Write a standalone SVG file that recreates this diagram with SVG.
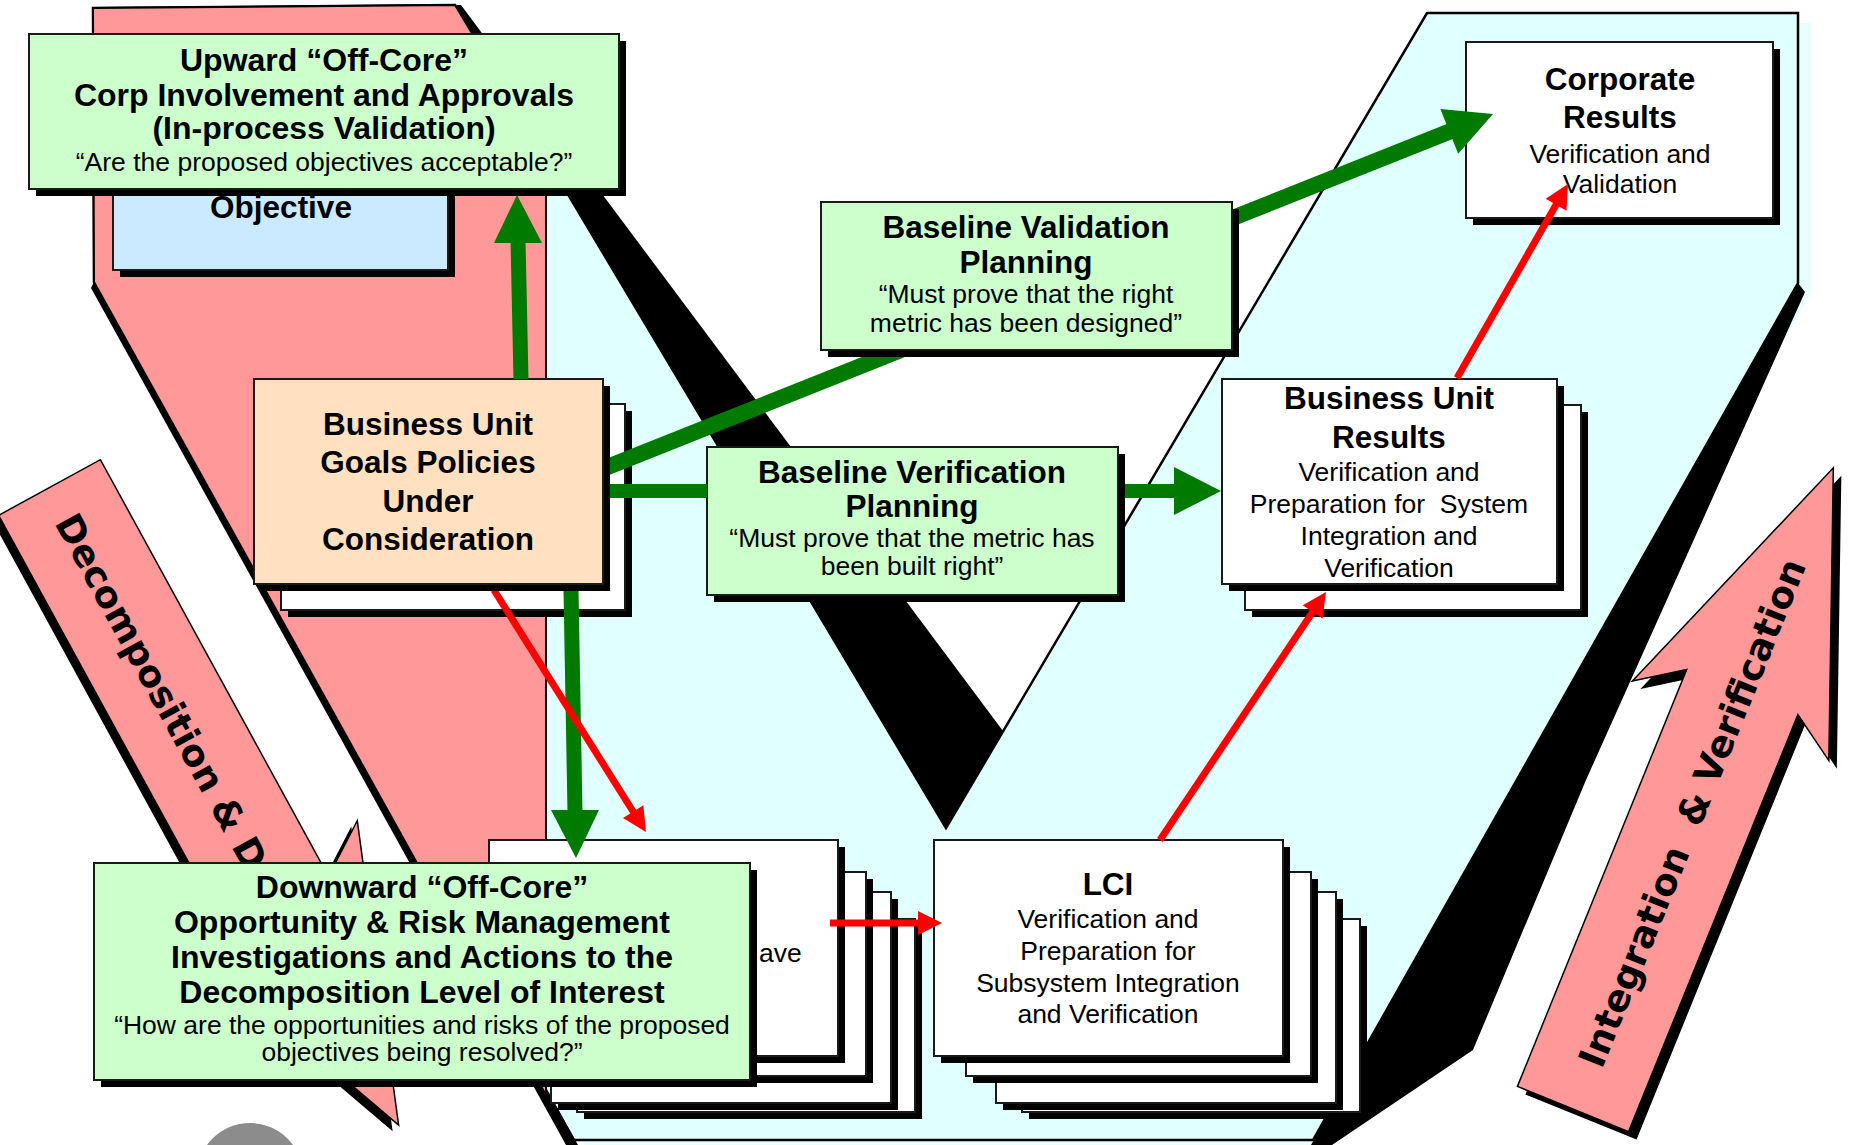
<svg xmlns="http://www.w3.org/2000/svg" width="1860" height="1145" viewBox="0 0 1860 1145">
<defs>
<style>
.shadow{fill:#000}
.box{stroke:#1a1a1a;stroke-width:2}
.green{fill:#ccffcc}
.white{fill:#ffffff}
.peach{fill:#ffe0c0}
.blue{fill:#cceaff}
.b{font-family:"Liberation Sans",Arial,sans-serif;font-weight:bold;font-size:31.5px;text-anchor:middle;fill:#000}
.b32{font-size:32px}
.r{font-family:"Liberation Sans",Arial,sans-serif;font-size:26.5px;text-anchor:middle;fill:#000}
.lbl{font-family:"DejaVu Sans",Verdana,sans-serif;font-weight:bold;font-size:37px;fill:#000}
.arrow-body{fill:#ff9999;stroke:#000;stroke-width:1.5;stroke-linejoin:miter}
.gl{stroke:#007a00;fill:none}
.gh{fill:#007a00}
.rl{stroke:#ff0000;stroke-width:7;fill:none}
.rh{fill:#ff0000}
</style>
<polygon id="decomp-shape" points="-58,0 58,0 58,475 110,440 0,727 -110,440 -58,475"/>
<polygon id="integ-shape" points="-60,0 60,0 60,-450 106,-419 0,-692 -106,-419 -60,-450"/>
<!-- connectors pass underneath these boxes -->
<clipPath id="under-boxes">
<path clip-rule="evenodd" d="M0 0H1860V1145H0Z M254 379H603V386H610V591H261V584H254Z M821 202H1232V209H1239V357H828V350H821Z M707 447H1118V454H1125V602H714V595H707Z"/>
</clipPath>
</defs>

<rect width="1860" height="1145" fill="#ffffff"/>

<!-- the Vee: soft offset, 3D side faces, front face, left arm -->
<g id="vee">
<polygon fill="#e8ffff" points="106,18 468,15 959,838 1440,23 1811,23 1811,293 1326,1150 587,1150 107,292"/>
<polygon fill="#000" points="1798,283 1805,292 1586,780 1473,1050 1332,1145 1311,1145"/>
<polygon fill="#e0ffff" stroke="#000" stroke-width="2.5" stroke-linejoin="miter" points="93,8 455,5 946,828 1427,13 1798,13 1798,283 1313,1140 574,1140 94,282"/>
<polygon fill="#000" points="455,5 461,5 1003,731 946,828"/>
<polygon fill="#000" points="94,282 578,1145 566,1145 91,288"/>
<polygon fill="#ff9999" stroke="#000" stroke-width="2" points="93,8 455,5 546,157 546,1095 94,282"/>
</g>

<g id="decomposition-arrow">
<use href="#decomp-shape" class="shadow" transform="translate(43.5,493.5) rotate(-28.7)"/>
<use href="#decomp-shape" class="arrow-body" transform="translate(49.5,487.5) rotate(-28.7)"/>
<text class="lbl" transform="translate(49.5,487.5) rotate(61.3)" x="33" y="13">Decomposition &amp; D</text>
</g>

<g id="integration-arrow">
<use href="#integ-shape" class="shadow" transform="translate(1581,1117) rotate(22.1)"/>
<use href="#integ-shape" class="arrow-body" transform="translate(1573,1109) rotate(22.1)"/>
<text class="lbl" xml:space="preserve" transform="translate(1573,1109) rotate(-67.9)" x="47" y="12">Integration  &amp; Verification</text>
</g>

<circle id="logo-disc" cx="250" cy="1176" r="53" fill="#8c8c8c"/>

<!-- nodes -->
<g id="objective">
<rect class="shadow" x="120" y="157" width="335" height="120"/>
<rect class="box blue" x="113" y="150" width="335" height="120"/>
<text class="b" x="281" y="218">Objective</text>
</g>

<g id="upward-off-core">
<rect class="shadow" x="36" y="41" width="590" height="155"/>
<rect class="box green" x="29" y="34" width="590" height="155"/>
<text class="b b32" x="324" y="71">Upward “Off-Core”</text>
<text class="b b32" x="324" y="106">Corp Involvement and Approvals</text>
<text class="b b32" x="324" y="139">(In-process Validation)</text>
<text class="r" x="324" y="171">“Are the proposed objectives acceptable?”</text>
</g>

<g id="bu-goals">
<rect class="shadow" x="288" y="411" width="344" height="206"/>
<rect class="box white" x="281" y="404" width="344" height="206"/>
<rect class="shadow" x="261" y="386" width="349" height="205"/>
<rect class="box peach" x="254" y="379" width="349" height="205"/>
<text class="b" x="428" y="435">Business Unit</text>
<text class="b" x="428" y="473">Goals Policies</text>
<text class="b" x="428" y="512">Under</text>
<text class="b" x="428" y="550">Consideration</text>
</g>

<g id="baseline-validation">
<rect class="shadow" x="828" y="209" width="411" height="148"/>
<rect class="box green" x="821" y="202" width="411" height="148"/>
<text class="b" x="1026" y="238">Baseline Validation</text>
<text class="b" x="1026" y="273">Planning</text>
<text class="r" x="1026" y="303">“Must prove that the right</text>
<text class="r" x="1026" y="332">metric has been designed”</text>
</g>

<g id="baseline-verification">
<rect class="shadow" x="714" y="454" width="411" height="148"/>
<rect class="box green" x="707" y="447" width="411" height="148"/>
<text class="b" x="912" y="483">Baseline Verification</text>
<text class="b" x="912" y="517">Planning</text>
<text class="r" x="912" y="547">“Must prove that the metric has</text>
<text class="r" x="912" y="575">been built right”</text>
</g>

<g id="corporate-results">
<rect class="shadow" x="1473" y="49" width="307" height="176"/>
<rect class="box white" x="1466" y="42" width="307" height="176"/>
<text class="b" x="1620" y="90">Corporate</text>
<text class="b" x="1620" y="128">Results</text>
<text class="r" x="1620" y="163">Verification and</text>
<text class="r" x="1620" y="193">Validation</text>
</g>

<g id="bu-results">
<rect class="shadow" x="1252" y="412" width="336" height="205"/>
<rect class="box white" x="1245" y="405" width="336" height="205"/>
<rect class="shadow" x="1229" y="386" width="335" height="205"/>
<rect class="box white" x="1222" y="379" width="335" height="205"/>
<text class="b" x="1389" y="409">Business Unit</text>
<text class="b" x="1389" y="448">Results</text>
<text class="r" x="1389" y="481">Verification and</text>
<text class="r" x="1389" y="513" xml:space="preserve">Preparation for  System</text>
<text class="r" x="1389" y="545">Integration and</text>
<text class="r" x="1389" y="577">Verification</text>
</g>

<g id="lci">
<rect class="shadow" x="1029" y="926" width="338" height="193"/>
<rect class="box white" x="1022" y="919" width="338" height="193"/>
<rect class="shadow" x="1003" y="899" width="340" height="211"/>
<rect class="box white" x="996" y="892" width="340" height="211"/>
<rect class="shadow" x="973" y="879" width="345" height="204"/>
<rect class="box white" x="966" y="872" width="345" height="204"/>
<rect class="shadow" x="941" y="847" width="349" height="216"/>
<rect class="box white" x="934" y="840" width="349" height="216"/>
<text class="b" x="1108" y="895">LCI</text>
<text class="r" x="1108" y="928">Verification and</text>
<text class="r" x="1108" y="960">Preparation for</text>
<text class="r" x="1108" y="992">Subsystem Integration</text>
<text class="r" x="1108" y="1023">and Verification</text>
</g>

<g id="lower-stack">
<rect class="shadow" x="584" y="926" width="338" height="193"/>
<rect class="box white" x="577" y="919" width="338" height="193"/>
<rect class="shadow" x="558" y="899" width="340" height="211"/>
<rect class="box white" x="551" y="892" width="340" height="211"/>
<rect class="shadow" x="528" y="879" width="345" height="204"/>
<rect class="box white" x="521" y="872" width="345" height="204"/>
<rect class="shadow" x="496" y="847" width="349" height="216"/>
<rect class="box white" x="489" y="840" width="349" height="216"/>
<text class="r" x="759" y="962" style="text-anchor:start">ave</text>
</g>

<g id="downward-off-core">
<rect class="shadow" x="101" y="870" width="656" height="217"/>
<rect class="box green" x="94" y="863" width="656" height="217"/>
<text class="b b32" x="422" y="898">Downward “Off-Core”</text>
<text class="b b32" x="422" y="933">Opportunity &amp; Risk Management</text>
<text class="b b32" x="422" y="968">Investigations and Actions to the</text>
<text class="b b32" x="422" y="1003">Decomposition Level of Interest</text>
<text class="r" x="422" y="1034">“How are the opportunities and risks of the proposed</text>
<text class="r" x="422" y="1061">objectives being resolved?”</text>
</g>

<!-- connectors -->
<g id="connectors" clip-path="url(#under-boxes)">
<line class="gl" stroke-width="15" x1="521" y1="380" x2="518" y2="240"/>
<polygon class="gh" points="494,243 542,243 517,195"/>
<line class="gl" stroke-width="16" x1="605" y1="468" x2="1451" y2="131"/>
<polygon class="gh" points="1440.4,109.1 1458.2,153.7 1493,114"/>
<line class="gl" stroke-width="14" x1="605" y1="491" x2="1176" y2="491"/>
<polygon class="gh" points="1174,467 1174,515 1221,491"/>
<line class="gl" stroke-width="15" x1="571" y1="590" x2="575" y2="812"/>
<polygon class="gh" points="551,810 599,810 576,858"/>
<line class="rl" x1="494" y1="590" x2="634" y2="813"/>
<polygon class="rh" points="623,818.1 643.4,805.3 646,832"/>
<line class="rl" x1="830" y1="923" x2="920" y2="923"/>
<polygon class="rh" points="918,911 918,935 942,923"/>
<line class="rl" x1="1160" y1="840" x2="1313.5" y2="610.7"/>
<polygon class="rh" points="1322.6,618.6 1302.7,605.3 1326,592"/>
<line class="rl" x1="1457" y1="378" x2="1556.8" y2="203.6"/>
<polygon class="rh" points="1566.5,210.8 1545.7,198.8 1568,184"/>
</g>
</svg>
